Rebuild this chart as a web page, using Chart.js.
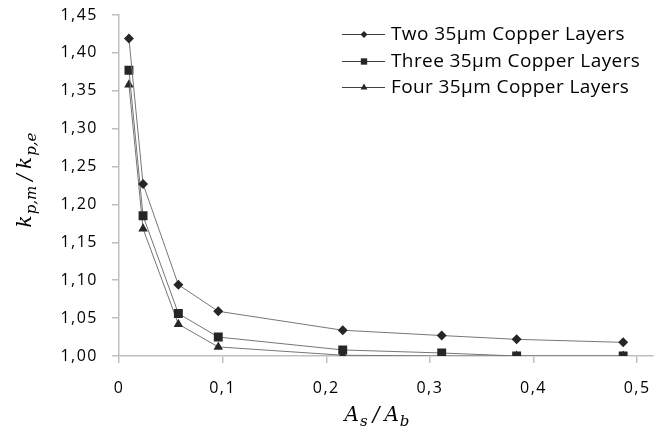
<!DOCTYPE html>
<html>
<head>
<meta charset="utf-8">
<script src="https://cdn.jsdelivr.net/npm/chart.js@4.4.1/dist/chart.umd.min.js"></script>
<style>
html,body{margin:0;padding:0;background:#fff;}
#wrap{width:659px;height:435px;}
</style>
</head>
<body>
<div id="wrap"><canvas id="c" width="659" height="435"></canvas></div>
<script>
// ---- data ----
const areaRatio = [0.0096, 0.0232, 0.0573, 0.0958, 0.2159, 0.3114, 0.3837, 0.4865];
const twoLayers   = [1.419, 1.227, 1.094, 1.059, 1.034, 1.027, 1.022, 1.018];
const threeLayers = [1.377, 1.185, 1.056, 1.025, 1.008, 1.004, 1.000, 1.000];
const fourLayers  = [1.358, 1.168, 1.042, 1.012, 1.001, 1.000, 1.000, 1.000];
const seriesLabels = ['Two 35\u00b5m Copper Layers', 'Three 35\u00b5m Copper Layers', 'Four 35\u00b5m Copper Layers'];
const xTickValues = [0, 0.1, 0.2, 0.3, 0.4, 0.5];
const yTickValues = [1.00, 1.05, 1.10, 1.15, 1.20, 1.25, 1.30, 1.35, 1.40, 1.45];

const LINE = '#767676';
const MARK = '#262626';
const AXIS = '#bfbfbf';
const UI_FONT = "'Open Sans', sans-serif";
const MATH_FONT = "'DejaVu Serif', serif";

function pts(ys){ return areaRatio.map((x,i)=>({x:x, y:ys[i]})); }
function ds(label, ys, style, r){
  return {label, data: pts(ys), borderColor: LINE, borderWidth: 1, backgroundColor: MARK,
    pointStyle: style, pointRadius: r, pointHoverRadius: r, pointBackgroundColor: MARK,
    pointBorderColor: MARK, pointBorderWidth: 0, tension: 0, fill: false};
}
const comma = v => v.toString().replace('.', ',');

const spacingPlugin = {
  id: 'spacing',
  beforeDraw(chart){ chart.ctx.letterSpacing = '1.5px'; },
  beforeDatasetsDraw(chart){ chart.ctx.letterSpacing = '0px'; }
};

const titlePlugin = {
  id: 'titles',
  afterDraw(chart){
    const ctx = chart.ctx;
    ctx.save();
    ctx.letterSpacing = '0px';
    ctx.fillStyle = '#000';
    const big = "italic 20px " + MATH_FONT, small = "italic 15px " + MATH_FONT;
    // [text, font, baseline shift, gap after]
    const xParts = [['A',big,0,1],['s',small,5,5],['/',big,0,5],['A',big,0,1],['b',small,5,0]];
    function measure(parts){ let w=0; parts.forEach(p=>{ctx.font=p[1]; w+=ctx.measureText(p[0]).width+p[3];}); return w; }
    function drawParts(parts, x, y){
      ctx.textBaseline='alphabetic'; ctx.textAlign='left';
      parts.forEach(p=>{ctx.font=p[1]; ctx.fillText(p[0], x, y+p[2]); x+=ctx.measureText(p[0]).width+p[3];});
    }
    let w = measure(xParts);
    drawParts(xParts, 377 - w/2, 421);
    const yParts = [['k',big,0,1],['p,m',small,5,5],['/',big,0,5],['k',big,0,1],['p,e',small,5,0]];
    w = measure(yParts);
    ctx.translate(31, 180);
    ctx.rotate(-Math.PI/2);
    drawParts(yParts, -w/2, 0);
    ctx.restore();
  }
};

const legendPlugin = {
  id: 'customLegend',
  afterDraw(chart){
    const ctx = chart.ctx;
    ctx.save();
    const rows = [34, 61, 87];
    const radii = [3.5, 4.5, 4];
    chart.data.datasets.forEach((d,i)=>{
      const y = rows[i];
      ctx.letterSpacing = '0px';
      ctx.strokeStyle = '#404040'; ctx.lineWidth = 1;
      ctx.beginPath(); ctx.moveTo(342, y+0.5); ctx.lineTo(385, y+0.5); ctx.stroke();
      ctx.fillStyle = MARK; ctx.strokeStyle = MARK;
      Chart.helpers.drawPoint(ctx, {pointStyle: d.pointStyle, rotation: 0, radius: radii[i], borderWidth: 0}, 364, y+0.5);
      ctx.fillStyle = '#000';
      ctx.font = "19px " + UI_FONT;
      ctx.letterSpacing = '0.4px';
      ctx.textBaseline = 'middle'; ctx.textAlign = 'left';
      ctx.fillText(d.label, 391, y+1);
    });
    ctx.restore();
  }
};

new Chart(document.getElementById('c'), {
  type: 'line',
  data: { datasets: [
    ds(seriesLabels[0], twoLayers, 'rectRot', 5),
    ds(seriesLabels[1], threeLayers, 'rect', 6.3),
    ds(seriesLabels[2], fourLayers, 'triangle', 5.5)
  ]},
  options: {
    responsive: false, animation: false, devicePixelRatio: 1,
    layout: { padding: { top: 15, right: 0, left: 0, bottom: 0 } },
    plugins: { legend: { display: false }, tooltip: { enabled: false } },
    scales: {
      x: {
        type: 'linear', min: 0, max: 0.515,
        afterBuildTicks(s){ s.ticks = xTickValues.map(v=>({value:v})); },
        afterFit(s){ s.height = 79; s.paddingLeft = 0; s.paddingRight = 0; },
        border: { color: AXIS, width: 1.5 },
        grid: { drawOnChartArea: false, drawTicks: true, tickLength: 7, color: AXIS, lineWidth: 1.5 },
        ticks: { color: '#000', font: { family: UI_FONT, size: 16 }, padding: 16, maxRotation: 0,
          callback: v => comma(v) }
      },
      y: {
        type: 'linear', min: 1.0, max: 1.45,
        afterBuildTicks(s){ s.ticks = yTickValues.map(v=>({value:v})); },
        afterFit(s){ s.width = 119; s.paddingTop = 0; s.paddingBottom = 0; },
        border: { color: AXIS, width: 1.5 },
        grid: { drawOnChartArea: false, drawTicks: true, tickLength: 7, color: AXIS, lineWidth: 1.5 },
        ticks: { color: '#000', font: { family: UI_FONT, size: 16 }, padding: 14,
          callback: v => v.toFixed(2).replace('.', ',') }
      }
    }
  },
  plugins: [spacingPlugin, titlePlugin, legendPlugin]
});
</script>
</body>
</html>
